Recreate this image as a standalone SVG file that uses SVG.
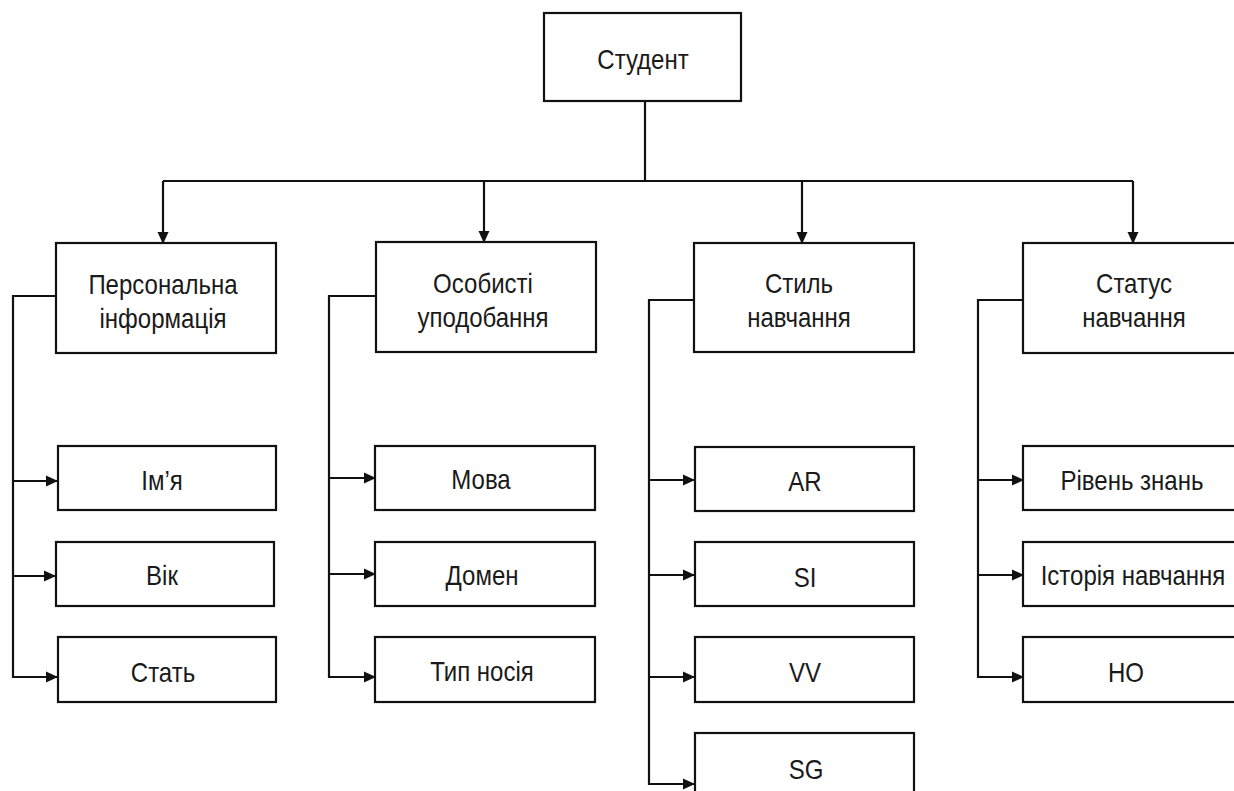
<svg xmlns="http://www.w3.org/2000/svg" width="1234" height="791" viewBox="0 0 1234 791">
  <style>
    .box { fill: #ffffff; stroke: #111111; stroke-width: 2.2; }
    .lbl { font-family: "Liberation Sans", Arial, sans-serif; font-size: 24.5px; fill: #1a1a1a; text-anchor: middle;
           transform-box: fill-box; transform-origin: center; transform: scale(0.98, 1.12); }
    .wire { fill: none; stroke: #111111; stroke-width: 2.2; }
    .arr { fill: none; stroke: #111111; stroke-width: 2.2; marker-end: url(#tip); }
  </style>
  <defs>
    <marker id="tip" viewBox="0 0 12 12" refX="11" refY="6" markerWidth="12" markerHeight="12" markerUnits="userSpaceOnUse" orient="auto">
      <path d="M0,0.5 L12,6 L0,11.5 Z" fill="#111111"/>
    </marker>
  </defs>
  <rect width="1234" height="791" fill="#ffffff"/>

  <!-- connectors -->
  <g id="connectors">
    <!-- root to categories -->
    <path class="wire" d="M645,101 V181 M163,181 H1133"/>
    <path class="arr" d="M163,181 V243"/>
    <path class="arr" d="M484,181 V242"/>
    <path class="arr" d="M802,181 V243"/>
    <path class="arr" d="M1133,181 V243"/>

    <!-- Персональна інформація -->
    <path class="wire" d="M56,296 H13 V678"/>
    <path class="arr" d="M13,481 H57"/>
    <path class="arr" d="M13,576 H55"/>
    <path class="arr" d="M13,677 H57"/>

    <!-- Особисті уподобання -->
    <path class="wire" d="M376,296 H329 V678"/>
    <path class="arr" d="M329,478 H375"/>
    <path class="arr" d="M329,574 H375"/>
    <path class="arr" d="M329,677 H375"/>

    <!-- Стиль навчання -->
    <path class="wire" d="M694,300 H649 V785"/>
    <path class="arr" d="M649,480 H694"/>
    <path class="arr" d="M649,575 H694"/>
    <path class="arr" d="M649,677 H694"/>
    <path class="arr" d="M649,784 H694"/>

    <!-- Статус навчання -->
    <path class="wire" d="M1023,300 H978 V678"/>
    <path class="arr" d="M978,480 H1023"/>
    <path class="arr" d="M978,575 H1023"/>
    <path class="arr" d="M978,677 H1023"/>
  </g>

  <!-- root -->
  <g id="student">
    <rect class="box" x="544" y="13" width="197" height="88"/>
    <text class="lbl" x="643" y="68">Студент</text>
  </g>

  <!-- categories -->
  <g id="personal">
    <rect class="box" x="56" y="243" width="220" height="110"/>
    <text class="lbl" x="163" y="293">Персональна</text>
    <text class="lbl" x="163" y="327">інформація</text>
  </g>
  <g id="preferences">
    <rect class="box" x="376" y="242" width="220" height="110"/>
    <text class="lbl" x="483" y="292">Особисті</text>
    <text class="lbl" x="483" y="326">уподобання</text>
  </g>
  <g id="style">
    <rect class="box" x="694" y="243" width="220" height="109"/>
    <text class="lbl" x="799" y="292">Стиль</text>
    <text class="lbl" x="799" y="326">навчання</text>
  </g>
  <g id="status">
    <rect class="box" x="1023" y="243" width="220" height="110"/>
    <text class="lbl" x="1134" y="292">Статус</text>
    <text class="lbl" x="1134" y="326">навчання</text>
  </g>

  <!-- personal info items -->
  <g id="name">
    <rect class="box" x="58" y="446" width="218" height="64"/>
    <text class="lbl" x="162" y="489">Ім’я</text>
  </g>
  <g id="age">
    <rect class="box" x="56" y="542" width="218" height="64"/>
    <text class="lbl" x="162" y="584">Вік</text>
  </g>
  <g id="gender">
    <rect class="box" x="58" y="637" width="218" height="65"/>
    <text class="lbl" x="163" y="681">Стать</text>
  </g>

  <!-- preference items -->
  <g id="language">
    <rect class="box" x="375" y="446" width="220" height="64"/>
    <text class="lbl" x="481" y="488">Мова</text>
  </g>
  <g id="domain">
    <rect class="box" x="375" y="542" width="220" height="64"/>
    <text class="lbl" x="482" y="584">Домен</text>
  </g>
  <g id="media">
    <rect class="box" x="375" y="637" width="220" height="65"/>
    <text class="lbl" x="482" y="680">Тип носія</text>
  </g>

  <!-- learning style items -->
  <g id="ar">
    <rect class="box" x="695" y="447" width="219" height="64"/>
    <text class="lbl" x="805" y="490">AR</text>
  </g>
  <g id="si">
    <rect class="box" x="695" y="542" width="219" height="64"/>
    <text class="lbl" x="805" y="586">SI</text>
  </g>
  <g id="vv">
    <rect class="box" x="695" y="637" width="219" height="65"/>
    <text class="lbl" x="805" y="681">VV</text>
  </g>
  <g id="sg">
    <rect class="box" x="695" y="733" width="219" height="70"/>
    <text class="lbl" x="806" y="778">SG</text>
  </g>

  <!-- learning status items -->
  <g id="knowledge">
    <rect class="box" x="1023" y="446" width="220" height="64"/>
    <text class="lbl" x="1132" y="489">Рівень знань</text>
  </g>
  <g id="history">
    <rect class="box" x="1023" y="542" width="220" height="64"/>
    <text class="lbl" x="1133" y="584">Історія навчання</text>
  </g>
  <g id="ho">
    <rect class="box" x="1023" y="637" width="220" height="65"/>
    <text class="lbl" x="1126" y="681">НО</text>
  </g>
</svg>
